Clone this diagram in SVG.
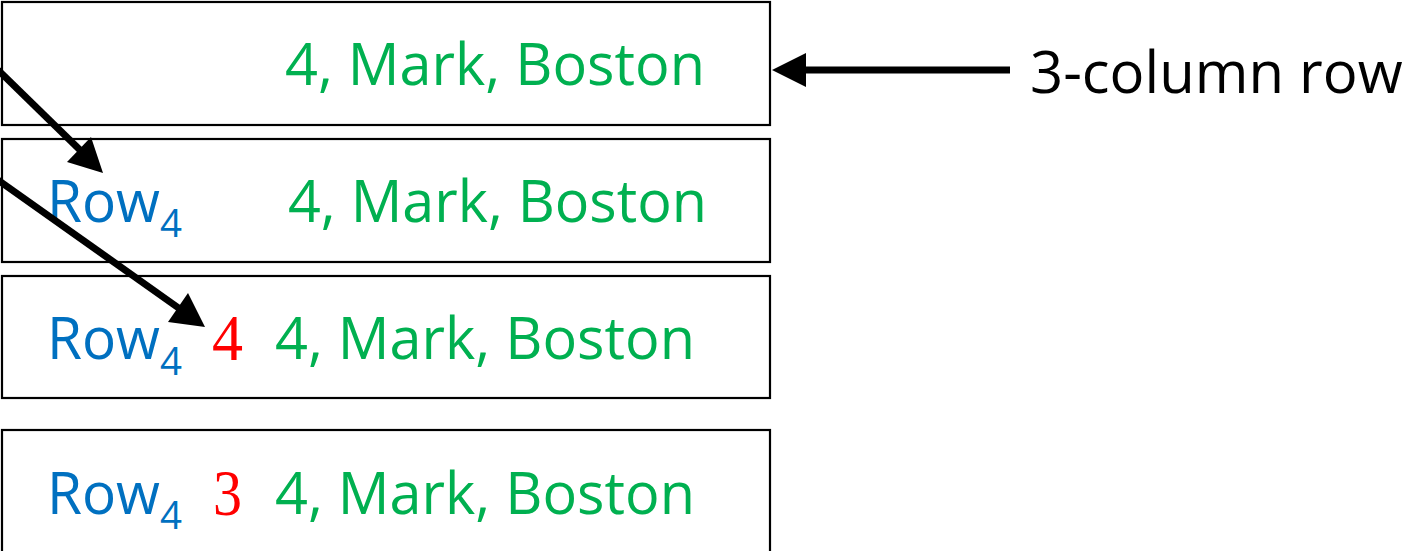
<svg xmlns="http://www.w3.org/2000/svg" width="1416" height="551" viewBox="0 0 1416 551">
<style>
.box{fill:#fff;stroke:#000;stroke-width:2.2}
.g{fill:#00B050;font-family:"Open Sans","Liberation Sans",sans-serif;font-size:59px}
.b{fill:#0070C0;font-family:"Open Sans","Liberation Sans",sans-serif;font-size:58px}
.bs{fill:#0070C0;font-family:"Open Sans","Liberation Sans",sans-serif;font-size:38px}
.r{fill:#FF0000;font-family:"Liberation Serif","Times New Roman",serif;font-size:66px}
.k{fill:#000;font-family:"Open Sans","Liberation Sans",sans-serif;font-size:58px}
.ln{stroke:#000;stroke-width:7;fill:none}
.hd{fill:#000}
</style>
<g id="row1">
<rect class="box" x="2" y="2" width="768" height="123"/>
<text class="g" x="285" y="85" textLength="420" lengthAdjust="spacingAndGlyphs">4, Mark, Boston</text>
</g>
<g id="row2">
<rect class="box" x="2" y="139" width="768" height="123"/>
<text class="b" x="47" y="222" textLength="113" lengthAdjust="spacingAndGlyphs">Row</text>
<text class="bs" x="160" y="237" textLength="22" lengthAdjust="spacingAndGlyphs">4</text>
<text class="g" x="288" y="222" textLength="419" lengthAdjust="spacingAndGlyphs">4, Mark, Boston</text>
</g>
<g id="row3">
<rect class="box" x="2" y="276" width="768" height="122"/>
<text class="b" x="47" y="359" textLength="113" lengthAdjust="spacingAndGlyphs">Row</text>
<text class="bs" x="160" y="375" textLength="22" lengthAdjust="spacingAndGlyphs">4</text>
<text class="r" x="212" y="360" textLength="31" lengthAdjust="spacingAndGlyphs">4</text>
<text class="g" x="275" y="359" textLength="420" lengthAdjust="spacingAndGlyphs">4, Mark, Boston</text>
</g>
<g id="row4">
<rect class="box" x="2" y="430" width="768" height="130"/>
<text class="b" x="47" y="514" textLength="113" lengthAdjust="spacingAndGlyphs">Row</text>
<text class="bs" x="160" y="529" textLength="22" lengthAdjust="spacingAndGlyphs">4</text>
<text class="r" x="213" y="515" textLength="29" lengthAdjust="spacingAndGlyphs">3</text>
<text class="g" x="275" y="514" textLength="420" lengthAdjust="spacingAndGlyphs">4, Mark, Boston</text>
</g>
<g id="label">
<text class="k" x="1030" y="93">3-column row</text>
</g>
<g id="connectors">
<line class="ln" x1="-2" y1="70" x2="80" y2="150"/>
<polygon class="hd" points="103,173 67,162 91,137"/>
<line class="ln" x1="-2" y1="180" x2="180" y2="309"/>
<polygon class="hd" points="205,327 168,322 188,293"/>
<line class="ln" x1="1010" y1="70" x2="800" y2="70"/>
<polygon class="hd" points="772,70 806,53 806,87"/>
</g>
</svg>
